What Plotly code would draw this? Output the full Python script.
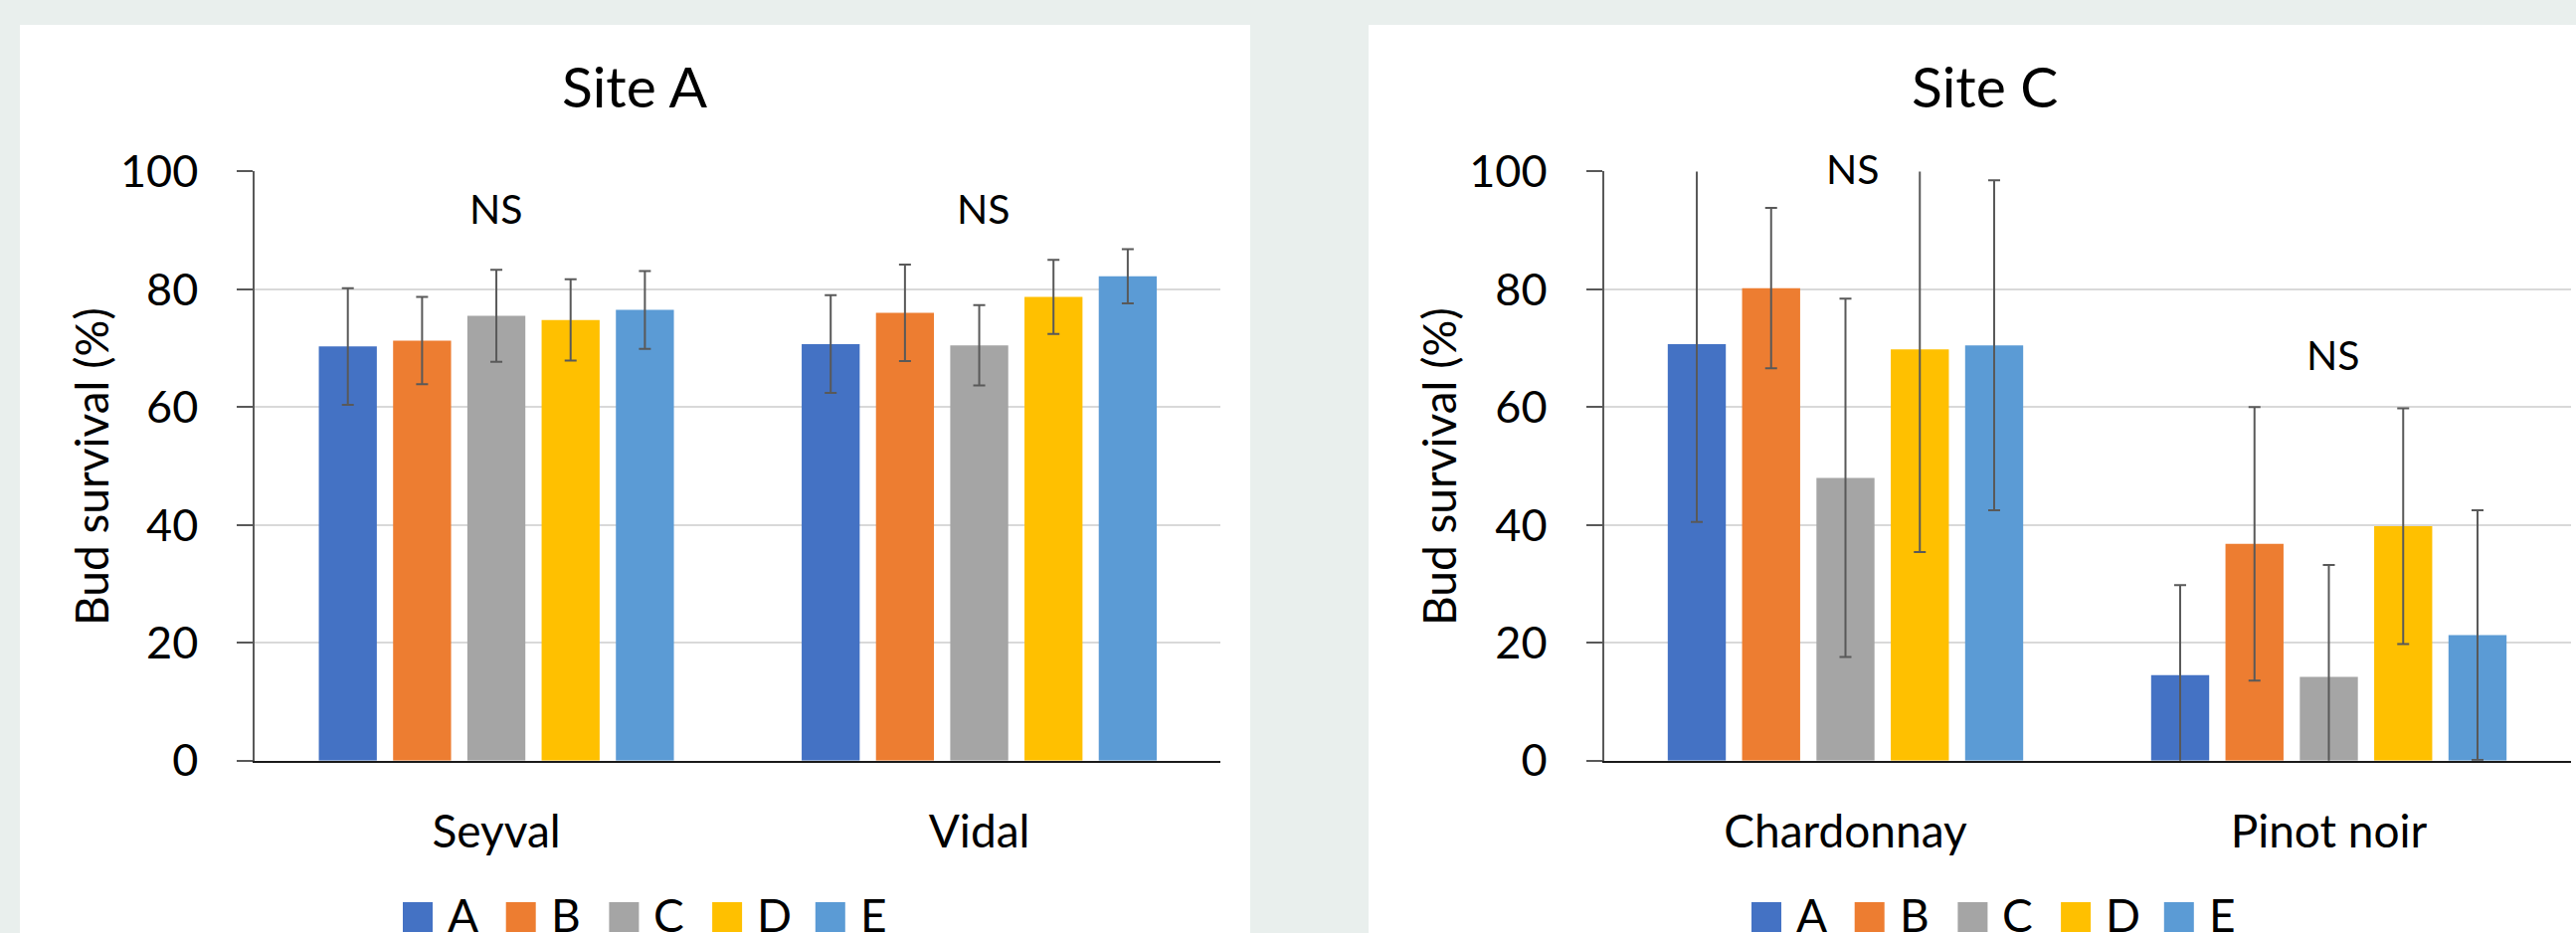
import plotly.graph_objects as go

# ---------------- data ----------------
treatments = ["A", "B", "C", "D", "E"]
colors = ["#4472C4", "#ED7D31", "#A5A5A5", "#FFC000", "#5B9BD5"]

siteA_title = "Site A"
siteA_cultivars = ["Seyval", "Vidal"]
siteA_values = {
    "A": [70.3, 70.7],
    "B": [71.3, 76.0],
    "C": [75.5, 70.5],
    "D": [74.8, 78.7],
    "E": [76.5, 82.2],
}
siteA_errors = {
    "A": [9.9, 8.3],
    "B": [7.4, 8.2],
    "C": [7.8, 6.8],
    "D": [6.9, 6.3],
    "E": [6.6, 4.6],
}
siteA_sig = ["NS", "NS"]
siteA_sig_y = [93.8, 93.8]

siteC_title = "Site C"
siteC_cultivars = ["Chardonnay", "Pinot noir"]
siteC_values = {
    "A": [70.7, 14.5],
    "B": [80.2, 36.8],
    "C": [48.0, 14.2],
    "D": [69.8, 39.8],
    "E": [70.5, 21.3],
}
siteC_errors = {
    "A": [30.2, 15.3],
    "B": [13.6, 23.2],
    "C": [30.4, 19.0],
    "D": [34.4, 20.0],
    "E": [28.0, 21.2],
}
siteC_sig = ["NS", "NS"]
siteC_sig_y = [100.5, 68.9]

y_title = "Bud survival (%)"
y_ticks = [0, 20, 40, 60, 80, 100]
y_range = [0, 100]

# ---------------- layout constants ----------------
W, H = 2590, 938
FONT = "Lato, 'Open Sans', sans-serif"
BG = "#E9EFED"
Y_BOTTOM_PX, Y_TOP_PX = 764.7, 172.4
PX_PER_UNIT = (Y_BOTTOM_PX - Y_TOP_PX) / (y_range[1] - y_range[0])


def px(x):
    return x / W


def py(y):
    return 1 - y / H


fig = go.Figure()

panels = [
    dict(values=siteA_values, errors=siteA_errors, cats=siteA_cultivars, sig=siteA_sig,
         sig_y=siteA_sig_y, sig_shift=[0, 4], title=siteA_title, xa="x", ya="y",
         dom=[256.3, 1227.3], card=[20, 1257], title_x=638, ytitle_x=91, leg_x=405),
    dict(values=siteC_values, errors=siteC_errors, cats=siteC_cultivars, sig=siteC_sig,
         sig_y=siteC_sig_y, sig_shift=[7, 4], title=siteC_title, xa="x2", ya="y2",
         dom=[1612.5, 2584.5], card=[1376, 2600], title_x=1995, ytitle_x=1446, leg_x=1761),
]

shapes = []
annotations = []
ydom = [py(Y_BOTTOM_PX), py(Y_TOP_PX)]

for p in panels:
    for t, c in zip(treatments, colors):
        fig.add_trace(go.Bar(
            x=p["cats"], y=p["values"][t], name=t,
            marker=dict(color=c, line=dict(width=0)),
            error_y=dict(type="data", array=p["errors"][t], visible=True,
                         color="#595959", thickness=2, width=6),
            xaxis=p["xa"], yaxis=p["ya"], showlegend=False,
        ))
    # white card
    shapes.append(dict(type="rect", xref="paper", yref="paper", layer="below",
                       x0=px(p["card"][0]), x1=px(p["card"][1]), y0=py(H + 5), y1=py(25),
                       fillcolor="white", line=dict(width=0)))
    # title
    annotations.append(dict(text=p["title"], xref="paper", yref="paper",
                            x=px(p["title_x"]), y=py(86), xanchor="center", yanchor="middle",
                            showarrow=False, font=dict(family=FONT, size=57, color="#000000")))
    # y title
    annotations.append(dict(text=y_title, xref="paper", yref="paper", textangle=-90,
                            x=px(p["ytitle_x"]), y=py(469), xanchor="center", yanchor="middle",
                            showarrow=False, font=dict(family=FONT, size=46, color="#000000")))
    # significance labels (kept inside axis range, overflow shifted in pixels)
    for cat, s, sy, sh in zip(p["cats"], p["sig"], p["sig_y"], p["sig_shift"]):
        yin = min(sy, y_range[1])
        annotations.append(dict(text=s, xref=p["xa"], yref=p["ya"], x=cat, y=yin,
                                xshift=sh, yshift=(sy - yin) * PX_PER_UNIT,
                                xanchor="center", yanchor="middle",
                                showarrow=False, font=dict(family=FONT, size=41, color="#000000")))
    # legend
    for i, (t, c) in enumerate(zip(treatments, colors)):
        x0 = p["leg_x"] + i * 103.7
        shapes.append(dict(type="rect", xref="paper", yref="paper",
                           x0=px(x0), x1=px(x0 + 30), y0=py(937), y1=py(907),
                           fillcolor=c, line=dict(width=0)))
        annotations.append(dict(text=t, xref="paper", yref="paper",
                                x=px(x0 + 43), y=py(919), xanchor="left", yanchor="middle",
                                showarrow=False, font=dict(family=FONT, size=46, color="#000000")))

common_y = dict(range=y_range, tickvals=y_ticks, showgrid=True, gridcolor="#D9D9D9",
                gridwidth=2, zeroline=False, showline=True, linecolor="#595959", linewidth=2,
                ticks="outside", ticklen=16, tickwidth=2, tickcolor="#595959",
                tickfont=dict(family=FONT, size=45, color="#000000"),
                ticklabelstandoff=30, fixedrange=True)
common_x = dict(showline=True, linecolor="#1a1a1a", linewidth=2, ticks="",
                showgrid=False, zeroline=False,
                tickfont=dict(family=FONT, size=46, color="#000000"),
                ticklabelstandoff=30, fixedrange=True)

fig.update_layout(
    width=W, height=H,
    margin=dict(l=0, r=0, t=0, b=0, pad=0, autoexpand=False),
    paper_bgcolor=BG, plot_bgcolor="rgba(0,0,0,0)",
    barmode="group", bargap=0.231, bargroupgap=0.219,
    showlegend=False,
    font=dict(family=FONT, color="#000000"),
    xaxis=dict(domain=[px(panels[0]["dom"][0]), px(panels[0]["dom"][1])], anchor="y", **common_x),
    yaxis=dict(domain=ydom, anchor="x", **common_y),
    xaxis2=dict(domain=[px(panels[1]["dom"][0]), px(panels[1]["dom"][1])], anchor="y2", **common_x),
    yaxis2=dict(domain=ydom, anchor="x2", **common_y),
    shapes=shapes, annotations=annotations,
)

fig.write_html("out.html", config={"displayModeBar": False},
               post_script="document.body.style.margin='0px';")
